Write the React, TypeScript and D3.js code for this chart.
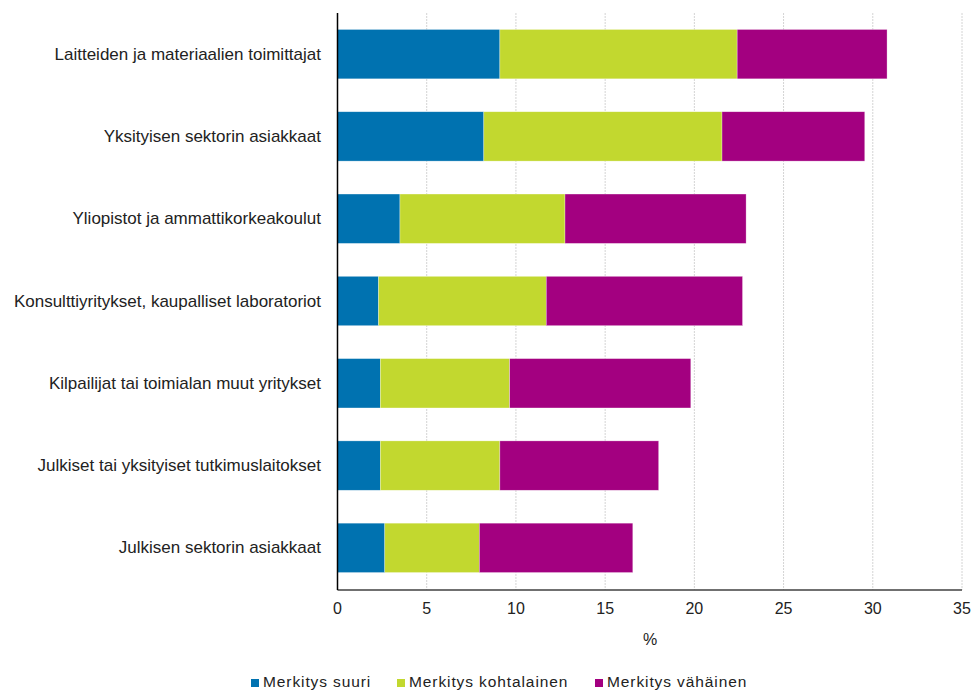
import React from "react";
import * as d3 from "d3";

const categories = [
  "Laitteiden ja materiaalien toimittajat",
  "Yksityisen sektorin asiakkaat",
  "Yliopistot ja ammattikorkeakoulut",
  "Konsulttiyritykset, kaupalliset laboratoriot",
  "Kilpailijat tai toimialan muut yritykset",
  "Julkiset tai yksityiset tutkimuslaitokset",
  "Julkisen sektorin asiakkaat",
];
const seriesNames = ["Merkitys suuri", "Merkitys kohtalainen", "Merkitys vähäinen"];
const suuri = [9.1, 8.2, 3.5, 2.3, 2.4, 2.4, 2.65];
const kohtalainen = [13.3, 13.35, 9.25, 9.4, 7.25, 6.7, 5.3];
const vahainen = [8.4, 8.0, 10.15, 11.0, 10.15, 8.9, 8.6];
const xTicks = [0, 5, 10, 15, 20, 25, 30, 35];
const colors = ["#0072B0", "#C2D82F", "#A30080"];

const W = 974;
const H = 691;
const FONT = "'Liberation Sans', Arial, sans-serif";

export default function App() {
  const x = d3.scaleLinear().domain([0, 35]).range([337.5, 962]);
  const y = d3
    .scaleBand<string>()
    .domain(categories)
    .range([13, 589])
    .paddingInner(0.4)
    .paddingOuter(0.2);

  const rows = categories.map((c, i) => ({ cat: c, s0: suuri[i], s1: kohtalainen[i], s2: vahainen[i] }));
  const stack = d3.stack<any>().keys(["s0", "s1", "s2"])(rows);

  const legendItems = [
    { name: seriesNames[0], sq: 251, tx: 263 },
    { name: seriesNames[1], sq: 397, tx: 409 },
    { name: seriesNames[2], sq: 595, tx: 607 },
  ];

  return (
    <svg
      width={W}
      height={H}
      style={{ position: "absolute", left: 0, top: 0, background: "#fff" }}
      fontFamily={FONT}
    >
      {xTicks.slice(1).map((t) => (
        <line key={t} x1={x(t)} x2={x(t)} y1={13} y2={590} stroke="#d4d4d4" strokeWidth={1} strokeDasharray="2,1" />
      ))}
      {stack.map((layer, li) => (
        <g key={li} fill={colors[li]}>
          {layer.map((d, i) => (
            <rect
              key={i}
              x={x(d[0])}
              y={y(categories[i])!}
              width={x(d[1]) - x(d[0])}
              height={y.bandwidth()}
              stroke="#ffffff"
              strokeOpacity={0.5}
              strokeWidth={0.6}
            />
          ))}
        </g>
      ))}
      <line x1={337.5} x2={962} y1={590} y2={590} stroke="#404040" strokeWidth={1.5} />
      <line x1={337.5} x2={337.5} y1={13} y2={590} stroke="#000" strokeWidth={1.5} />
      {categories.map((c) => (
        <text
          key={c}
          x={321}
          y={y(c)! + y.bandwidth() / 2}
          textAnchor="end"
          dominantBaseline="central"
          fontSize={17}
          fill="#222"
        >
          {c}
        </text>
      ))}
      {xTicks.map((t) => (
        <text key={t} x={x(t)} y={614} textAnchor="middle" fontSize={16} fill="#222">
          {t}
        </text>
      ))}
      <text x={650} y={645} textAnchor="middle" fontSize={16} fill="#222">
        %
      </text>
      {legendItems.map((l, i) => (
        <g key={l.name}>
          <rect x={l.sq} y={679} width={8} height={8} fill={colors[i]} />
          <text x={l.tx} y={687} fontSize={15.5} fill="#222" letterSpacing={0.9}>
            {l.name}
          </text>
        </g>
      ))}
    </svg>
  );
}
